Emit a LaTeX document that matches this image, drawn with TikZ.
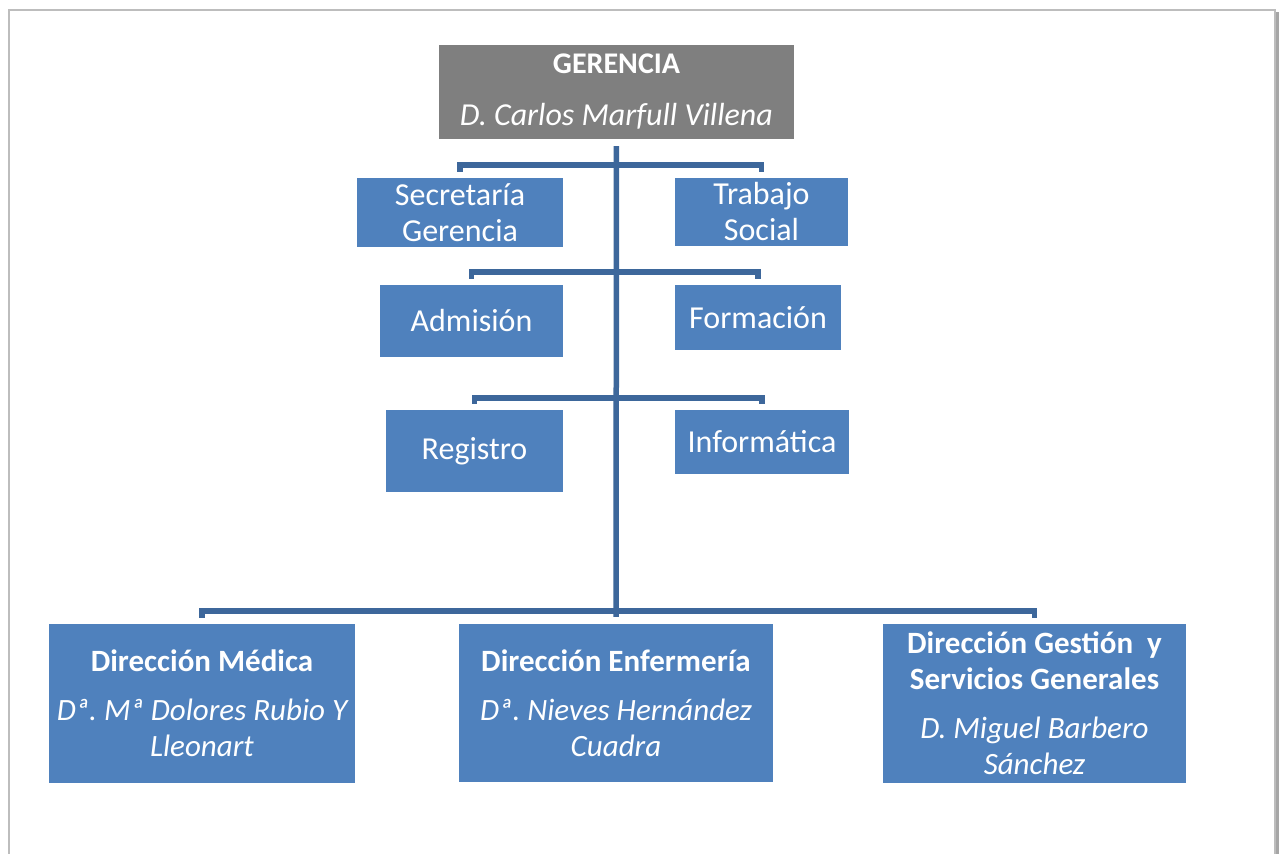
\documentclass[tikz,border=0pt]{standalone}
\usepackage{fontspec}
\setmainfont{Carlito}
\frenchspacing
\definecolor{boxblue}{HTML}{4F81BD}
\definecolor{boxgray}{HTML}{7F7F7F}
\definecolor{connblue}{HTML}{3D679B}
\definecolor{framegray}{HTML}{BDBDBD}
\definecolor{shadowgray}{HTML}{A6A6A6}
\begin{document}
\begin{tikzpicture}[x=1pt,y=-1pt,
  box/.style={fill=boxblue, text=white, inner sep=0pt, align=center, anchor=center,
    font=\fontsize{32}{36}\selectfont\frenchspacing},
  topbox/.style={box, fill=boxgray},
  conn/.style={draw=connblue, line width=5.5pt, line cap=butt, line join=miter}
]
\useasboundingbox (0,0) rectangle (1283,854);
\fill[white] (0,0) rectangle (1283,854);
% page frame
\draw[shadowgray, line width=3pt] (1277,12) -- (1277,856);
\draw[framegray, line width=1.5pt] (9,856) -- (9,10) -- (1275,10) -- (1275,856);

% nodes
\node[topbox, minimum width=355pt, minimum height=94pt] (ger) at (616.5,92)
  {{\bfseries\fontsize{30}{36}\selectfont GERENCIA}\\[16pt]{\itshape D. Carlos Marfull Villena}};
\node[box, minimum width=206pt, minimum height=69pt] (sec) at (460,212.5) {Secretaría\\Gerencia};
\node[box, minimum width=173pt, minimum height=68pt] (tra) at (761.5,212) {Trabajo\\Social};
\node[box, minimum width=183pt, minimum height=72pt] (adm) at (471.5,321) {Admisión};
\node[box, minimum width=166pt, minimum height=65pt] (for) at (758,317.5) {Formación};
\node[box, minimum width=177pt, minimum height=82pt] (reg) at (474.5,451) {Registro};
\node[box, minimum width=174pt, minimum height=64pt] (inf) at (762,442) {Informática};

\node[box, minimum width=306pt, minimum height=159pt, font=\fontsize{31}{36}\selectfont\frenchspacing] (med) at (202,703.5)
  {{\bfseries Dirección Médica}\\[13pt]{\itshape Dª. Mª Dolores Rubio Y}\\{\itshape Lleonart}};
\node[box, minimum width=314pt, minimum height=158pt, font=\fontsize{31}{36}\selectfont\frenchspacing] (enf) at (616,703)
  {{\bfseries Dirección Enfermería}\\[13pt]{\itshape Dª. Nieves Hernández}\\{\itshape Cuadra}};
\node[box, minimum width=303pt, minimum height=159pt, font=\fontsize{31}{36}\selectfont\frenchspacing] (ges) at (1034.5,703.5)
  {{\bfseries Dirección Gestión \ y}\\{\bfseries Servicios Generales}\\[13pt]{\itshape D. Miguel Barbero}\\{\itshape Sánchez}};

% junctions on the trunk
\coordinate (j1) at (616,165);
\coordinate (j2) at (616,272);
\coordinate (j3) at (616,398);
\coordinate (j4) at (616,611);

% connectors
\draw[conn, shorten <=7pt, shorten >=7pt] (ger.south) -- (enf.north);
\draw[conn, shorten <=6pt, shorten >=6pt] (sec.north) |- (j1) -| (tra.north);
\draw[conn, shorten <=6pt, shorten >=6pt] (adm.north) |- (j2) -| (for.north);
\draw[conn, shorten <=6pt, shorten >=6pt] (reg.north) |- (j3) -| (inf.north);
\draw[conn, shorten <=6pt, shorten >=6pt] (med.north) |- (j4) -| (ges.north);
\end{tikzpicture}
\end{document}
